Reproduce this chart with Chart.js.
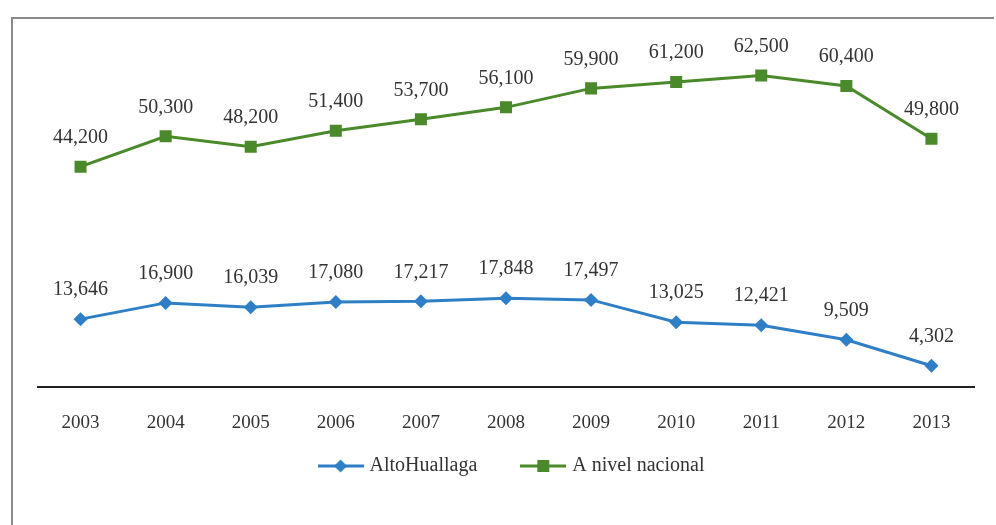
<!DOCTYPE html>
<html>
<head>
<meta charset="utf-8">
<script src="https://cdn.jsdelivr.net/npm/chart.js@4/dist/chart.umd.min.js"></script>
<style>
  html, body { margin: 0; padding: 0; background: #fff; }
  #wrap { width: 996px; height: 525px; position: relative; }
</style>
</head>
<body>
<div id="wrap"><canvas id="c" width="996" height="525"></canvas></div>
<script>
// Years on the horizontal axis
const years = ['2003', '2004', '2005', '2006', '2007', '2008', '2009', '2010', '2011', '2012', '2013'];
// Alto Huallaga values
const altoHuallaga = [13646, 16900, 16039, 17080, 17217, 17848, 17497, 13025, 12421, 9509, 4302];
// National level values
const nivelNacional = [44200, 50300, 48200, 51400, 53700, 56100, 59900, 61200, 62500, 60400, 49800];

const BLUE = '#2f7fc6';
const GREEN = '#4b8a2b';
const TEXT = '#333333';
const FONT = '"Liberation Serif", "Times New Roman", serif';
const TICK_SIZE = 19;
const LABEL_SIZE = 20;

// Legend swatch: a short line with the series marker in the middle
function swatch(color, shape) {
  const cv = document.createElement('canvas');
  cv.width = 46; cv.height = 16;
  const g = cv.getContext('2d');
  g.strokeStyle = color; g.lineWidth = 3;
  g.beginPath(); g.moveTo(0, 8); g.lineTo(46, 8); g.stroke();
  g.fillStyle = color;
  g.beginPath();
  if (shape === 'diamond') {
    g.moveTo(23, 1.5); g.lineTo(29.5, 8); g.lineTo(23, 14.5); g.lineTo(16.5, 8); g.closePath();
  } else {
    g.rect(17, 2, 12, 12);
  }
  g.fill();
  return cv;
}
const swatches = [swatch(BLUE, 'diamond'), swatch(GREEN, 'square')];

// Thin grey frame along the left and top edges
const framePlugin = {
  id: 'frame',
  beforeDraw(chart) {
    const ctx = chart.ctx;
    ctx.save();
    ctx.strokeStyle = '#8a8a8a';
    ctx.lineWidth = 2;
    ctx.beginPath();
    ctx.moveTo(12, 525);
    ctx.lineTo(12, 18);
    ctx.lineTo(994, 18);
    ctx.stroke();
    ctx.restore();
  }
};

// Value labels above each point
const valueLabels = {
  id: 'valueLabels',
  afterDatasetsDraw(chart) {
    const ctx = chart.ctx;
    ctx.save();
    ctx.font = LABEL_SIZE + 'px ' + FONT;
    ctx.fillStyle = TEXT;
    ctx.textAlign = 'center';
    ctx.textBaseline = 'middle';
    chart.data.datasets.forEach((ds, i) => {
      const meta = chart.getDatasetMeta(i);
      meta.data.forEach((pt, j) => {
        ctx.fillText(ds.data[j].toLocaleString('en-US'), pt.x, pt.y - 29);
      });
    });
    ctx.restore();
  }
};

// Legend row under the axis: swatch followed by series name
const lineLegend = {
  id: 'lineLegend',
  afterDraw(chart) {
    const ctx = chart.ctx;
    ctx.save();
    ctx.font = LABEL_SIZE + 'px ' + FONT;
    ctx.fillStyle = TEXT;
    ctx.textBaseline = 'middle';
    ctx.textAlign = 'left';
    const gapSwatch = 6, gapItem = 43, cy = 466;
    const items = chart.data.datasets.map((ds, i) => ({
      img: swatches[i], text: ds.label, tw: ctx.measureText(ds.label).width
    }));
    const total = items.reduce((s, it) => s + it.img.width + gapSwatch + it.tw, 0) + gapItem * (items.length - 1);
    let x = 511 - total / 2;
    items.forEach(it => {
      ctx.drawImage(it.img, x, cy - it.img.height / 2);
      x += it.img.width + gapSwatch;
      ctx.fillText(it.text, x, cy);
      x += it.tw + gapItem;
    });
    ctx.restore();
  }
};

new Chart(document.getElementById('c'), {
  type: 'line',
  data: {
    labels: years,
    datasets: [
      {
        label: 'AltoHuallaga',
        data: altoHuallaga,
        borderColor: BLUE,
        backgroundColor: BLUE,
        borderWidth: 3,
        pointStyle: 'rectRot',
        pointRadius: 7,
        pointBorderWidth: 0,
        tension: 0
      },
      {
        label: 'A nivel nacional',
        data: nivelNacional,
        borderColor: GREEN,
        backgroundColor: GREEN,
        borderWidth: 3,
        pointStyle: 'rect',
        pointRadius: 8.5,
        pointBorderWidth: 0,
        tension: 0
      }
    ]
  },
  options: {
    responsive: false,
    animation: false,
    layout: { padding: { left: 38, right: 22, top: 38, bottom: 67 } },
    scales: {
      x: {
        offset: true,
        grid: { display: false, drawTicks: false },
        border: { display: true, color: '#222', width: 2 },
        ticks: { color: TEXT, font: { family: FONT, size: TICK_SIZE }, padding: 24 }
      },
      y: {
        display: false,
        min: 0,
        max: 70000
      }
    },
    plugins: {
      tooltip: { enabled: false },
      legend: { display: false }
    }
  },
  plugins: [framePlugin, valueLabels, lineLegend]
});
</script>
</body>
</html>
